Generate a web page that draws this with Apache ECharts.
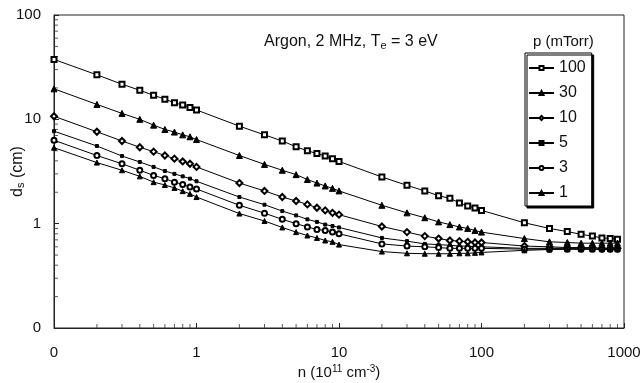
<!DOCTYPE html>
<html>
<head>
<meta charset="utf-8">
<script src="https://cdn.jsdelivr.net/npm/echarts@6/dist/echarts.min.js"></script>
<style>
  html, body { margin: 0; padding: 0; background: #fff; }
  #main { width: 644px; height: 383px; }
</style>
</head>
<body>
<div id="main"></div>
<script>
// densité n (10^11 cm^-3)
var nVals = [0.1, 0.2, 0.3, 0.4, 0.5, 0.6, 0.7, 0.8, 0.9, 1,
             2, 3, 4, 5, 6, 7, 8, 9, 10,
             20, 30, 40, 50, 60, 70, 80, 90, 100,
             200, 300, 400, 500, 600, 700, 800, 900];

// ds (cm) pour chaque pression
var d100 = [37.5, 26.7, 21.7, 19.0, 17.0, 15.6, 14.4, 13.7, 13.0, 12.3,
            8.6, 7.1, 6.2, 5.45, 5.0, 4.7, 4.45, 4.2, 3.95,
            2.8, 2.33, 2.06, 1.85, 1.75, 1.58, 1.48, 1.41, 1.34,
            1.02, 0.9, 0.84, 0.79, 0.76, 0.73, 0.72, 0.71];
var d30 = [19.6, 13.9, 11.4, 10.0, 8.8, 8.0, 7.55, 7.1, 6.8, 6.4,
           4.5, 3.7, 3.25, 2.95, 2.65, 2.45, 2.3, 2.18, 2.06,
           1.5, 1.27, 1.14, 1.04, 0.98, 0.93, 0.9, 0.86, 0.83,
           0.72, 0.67, 0.66, 0.65, 0.65, 0.65, 0.65, 0.65];
var d10 = [10.7, 7.6, 6.2, 5.4, 4.9, 4.5, 4.2, 3.95, 3.75, 3.5,
           2.45, 2.06, 1.8, 1.65, 1.53, 1.42, 1.34, 1.27, 1.22,
           0.94, 0.83, 0.76, 0.72, 0.69, 0.68, 0.67, 0.66, 0.66,
           0.61, 0.6, 0.59, 0.59, 0.59, 0.58, 0.58, 0.58];
var d5 = [7.7, 5.55, 4.45, 3.9, 3.5, 3.2, 3.0, 2.84, 2.7, 2.55,
          1.8, 1.52, 1.32, 1.2, 1.1, 1.04, 0.98, 0.95, 0.92,
          0.73, 0.68, 0.64, 0.63, 0.62, 0.61, 0.61, 0.6, 0.6,
          0.58, 0.58, 0.58, 0.58, 0.57, 0.57, 0.57, 0.57];
var d3 = [6.3, 4.5, 3.75, 3.25, 2.9, 2.7, 2.5, 2.38, 2.24, 2.15,
          1.5, 1.26, 1.1, 1.0, 0.93, 0.88, 0.86, 0.83, 0.8,
          0.64, 0.61, 0.6, 0.59, 0.58, 0.58, 0.58, 0.58, 0.58,
          0.57, 0.57, 0.57, 0.57, 0.57, 0.57, 0.57, 0.57];
var d1 = [5.35, 3.85, 3.25, 2.84, 2.5, 2.35, 2.2, 2.05, 1.93, 1.8,
          1.25, 1.06, 0.92, 0.83, 0.77, 0.73, 0.69, 0.67, 0.63,
          0.54, 0.52, 0.515, 0.515, 0.515, 0.52, 0.52, 0.525, 0.53,
          0.555, 0.565, 0.57, 0.57, 0.57, 0.57, 0.57, 0.57];

var pNames = ['100', '30', '10', '5', '3', '1'];

// graduations secondaires (log)
var xMinor = [0.2, 0.3, 0.4, 0.5, 0.6, 0.7, 0.8, 0.9,
              2, 3, 4, 5, 6, 7, 8, 9,
              20, 30, 40, 50, 60, 70, 80, 90,
              200, 300, 400, 500, 600, 700, 800, 900];
var yMinor = [0.2, 0.3, 0.4, 0.5, 0.6, 0.7, 0.8, 0.9,
              2, 3, 4, 5, 6, 7, 8, 9,
              20, 30, 40, 50, 60, 70, 80, 90];

var FONT = 'Liberation Sans, Arial, sans-serif';

function pairs(ys) {
    var d = [];
    for (var i = 0; i < nVals.length; i++) {
        d.push([nVals[i], ys[i]]);
    }
    return d;
}

function lineSeries(name, ys, symbol, size) {
    return {
        name: name,
        type: 'line',
        data: pairs(ys),
        symbol: symbol,
        symbolSize: size,
        showSymbol: true,
        lineStyle: { color: '#000', width: 1 },
        itemStyle: { color: '#000', borderColor: '#000', borderWidth: 1 },
        animation: false,
        z: 3
    };
}

function logLabel(v) {
    if (v < 0.5) return '0';   // le bas de l'axe est marqué "0"
    return String(Math.round(v));
}

var myChart = echarts.init(document.getElementById('main'));

var option = {
    backgroundColor: '#fff',
    animation: false,
    textStyle: { fontFamily: FONT },
    title: [
        {
            text: 'Argon, 2 MHz, T{s|e} = 3 eV',
            left: 259,
            top: 28,
            textStyle: {
                fontFamily: FONT, fontSize: 16, fontWeight: 'normal', color: '#111',
                rich: { s: { fontFamily: FONT, fontSize: 11, color: '#111', verticalAlign: 'bottom', padding: [7, 0, 0, 0] } }
            }
        },
        {
            text: 'p (mTorr)',
            left: 528,
            top: 29,
            textStyle: { fontFamily: FONT, fontSize: 15, fontWeight: 'normal', color: '#111' }
        }
    ],
    legend: {
        data: pNames,
        orient: 'vertical',
        left: 525,
        top: 53,
        padding: [7, 6, 5, 3],
        itemWidth: 25,
        itemHeight: 5,
        itemGap: 9,
        backgroundColor: '#fff',
        borderColor: '#000',
        borderWidth: 1,
        borderRadius: 0,
        shadowColor: '#000',
        shadowBlur: 0,
        shadowOffsetX: 2,
        shadowOffsetY: 2,
        textStyle: { fontFamily: FONT, fontSize: 16, color: '#111', lineHeight: 14 }
    },
    grid: {
        left: 54,
        right: 20,
        top: 15,
        bottom: 55,
        outerBoundsMode: 'none',
        containLabel: false,
        show: true,
        borderColor: '#222',
        borderWidth: 1
    },
    xAxis: {
        type: 'log',
        logBase: 10,
        min: 0.1,
        max: 1000,
        name: 'n (10{sup|11} cm{sup|-3})',
        nameLocation: 'middle',
        nameGap: 36,
        nameMoveOverlap: false,
        nameTextStyle: {
            fontFamily: FONT, fontSize: 15, color: '#111',
            rich: { sup: { fontFamily: FONT, fontSize: 10, color: '#111', verticalAlign: 'top', padding: [0, 0, 7, 0] } }
        },
        axisLine: { lineStyle: { color: '#222', width: 1 } },
        axisTick: { inside: true, length: 5, lineStyle: { color: '#222' } },
        splitLine: { show: false },
        axisLabel: {
            formatter: logLabel,
            fontFamily: FONT, fontSize: 15, color: '#111', margin: 17
        }
    },
    yAxis: {
        type: 'log',
        logBase: 10,
        min: 0.1,
        max: 100,
        name: 'd{sub|s} (cm)',
        nameLocation: 'middle',
        nameRotate: 90,
        nameGap: 28,
        nameMoveOverlap: false,
        nameTextStyle: {
            fontFamily: FONT, fontSize: 16, color: '#111',
            rich: { sub: { fontFamily: FONT, fontSize: 11, color: '#111', verticalAlign: 'bottom', padding: [6, 0, 0, 0] } }
        },
        axisLine: { lineStyle: { color: '#222', width: 1 } },
        axisTick: { inside: true, length: 5, lineStyle: { color: '#222' } },
        splitLine: { show: false },
        axisLabel: {
            formatter: logLabel,
            fontFamily: FONT, fontSize: 15, color: '#111', margin: 13
        }
    },
    series: [
        lineSeries('100', d100, 'emptyRect', 5),
        lineSeries('30', d30, 'triangle', 6),
        lineSeries('10', d10, 'emptyDiamond', 6),
        lineSeries('5', d5, 'rect', 3),
        lineSeries('3', d3, 'emptyCircle', 5),
        lineSeries('1', d1, 'triangle', 5),
        {
            // petites graduations de l'axe x
            type: 'scatter',
            silent: true,
            clip: false,
            symbol: 'rect',
            symbolSize: [1, 4],
            symbolOffset: [0, -2],
            itemStyle: { color: '#333' },
            data: xMinor.map(function (v) { return [v, 0.1]; }),
            z: 1
        },
        {
            // petites graduations de l'axe y
            type: 'scatter',
            silent: true,
            clip: false,
            symbol: 'rect',
            symbolSize: [4, 1],
            symbolOffset: [2, 0],
            itemStyle: { color: '#333' },
            data: yMinor.map(function (v) { return [0.1, v]; }),
            z: 1
        }
    ]
};

myChart.setOption(option);
</script>
</body>
</html>
